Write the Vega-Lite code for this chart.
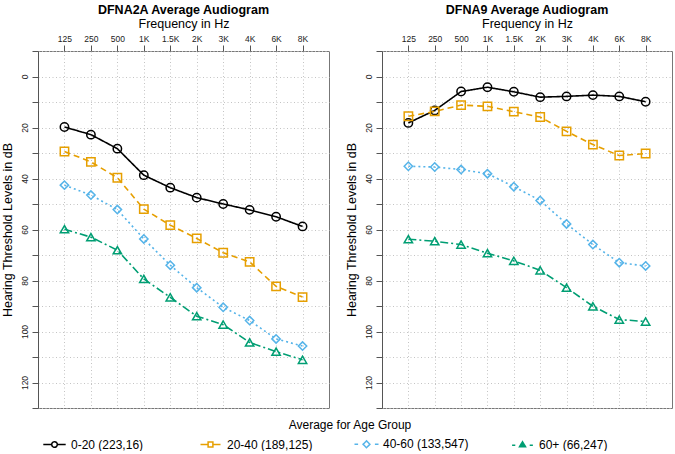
{
  "$schema": "https://vega.github.io/schema/vega-lite/v6.json",
  "background": "white",
  "padding": {"left": 0, "top": 3, "right": 6, "bottom": 0},
  "config": {
    "font": "Liberation Sans",
    "view": {"stroke": "#777", "strokeWidth": 1},
    "axis": {
      "labelFont": "Liberation Sans",
      "titleFont": "Liberation Sans",
      "labelColor": "#222",
      "titleColor": "#000",
      "titleFontWeight": "normal",
      "titleFontSize": 12.5,
      "labelFontSize": 8.5,
      "gridColor": "#c4c4c4",
      "gridDash": [1, 2.5],
      "gridWidth": 1,
      "domainColor": "#555",
      "tickColor": "#555",
      "tickSize": 6
    },
    "title": {"font": "Liberation Sans", "fontSize": 12.5, "fontWeight": "bold", "anchor": "middle", "offset": 1, "color": "#000"}
  },
  "datasets": {
    "dfna2a": [
      {"freq": "125", "db": 19.8, "group": "0-20 (223,16)"},
      {"freq": "250", "db": 22.8, "group": "0-20 (223,16)"},
      {"freq": "500", "db": 28.3, "group": "0-20 (223,16)"},
      {"freq": "1K", "db": 38.7, "group": "0-20 (223,16)"},
      {"freq": "1.5K", "db": 43.6, "group": "0-20 (223,16)"},
      {"freq": "2K", "db": 47.5, "group": "0-20 (223,16)"},
      {"freq": "3K", "db": 50.0, "group": "0-20 (223,16)"},
      {"freq": "4K", "db": 52.3, "group": "0-20 (223,16)"},
      {"freq": "6K", "db": 55.0, "group": "0-20 (223,16)"},
      {"freq": "8K", "db": 58.8, "group": "0-20 (223,16)"},
      {"freq": "125", "db": 29.4, "group": "20-40 (189,125)"},
      {"freq": "250", "db": 33.5, "group": "20-40 (189,125)"},
      {"freq": "500", "db": 39.7, "group": "20-40 (189,125)"},
      {"freq": "1K", "db": 52.0, "group": "20-40 (189,125)"},
      {"freq": "1.5K", "db": 58.3, "group": "20-40 (189,125)"},
      {"freq": "2K", "db": 63.5, "group": "20-40 (189,125)"},
      {"freq": "3K", "db": 69.1, "group": "20-40 (189,125)"},
      {"freq": "4K", "db": 72.7, "group": "20-40 (189,125)"},
      {"freq": "6K", "db": 82.3, "group": "20-40 (189,125)"},
      {"freq": "8K", "db": 86.5, "group": "20-40 (189,125)"},
      {"freq": "125", "db": 42.6, "group": "40-60 (133,547)"},
      {"freq": "250", "db": 46.5, "group": "40-60 (133,547)"},
      {"freq": "500", "db": 52.2, "group": "40-60 (133,547)"},
      {"freq": "1K", "db": 63.7, "group": "40-60 (133,547)"},
      {"freq": "1.5K", "db": 74.0, "group": "40-60 (133,547)"},
      {"freq": "2K", "db": 82.8, "group": "40-60 (133,547)"},
      {"freq": "3K", "db": 90.5, "group": "40-60 (133,547)"},
      {"freq": "4K", "db": 95.7, "group": "40-60 (133,547)"},
      {"freq": "6K", "db": 102.9, "group": "40-60 (133,547)"},
      {"freq": "8K", "db": 105.7, "group": "40-60 (133,547)"},
      {"freq": "125", "db": 59.9, "group": "60+ (66,247)"},
      {"freq": "250", "db": 63.0, "group": "60+ (66,247)"},
      {"freq": "500", "db": 68.1, "group": "60+ (66,247)"},
      {"freq": "1K", "db": 79.4, "group": "60+ (66,247)"},
      {"freq": "1.5K", "db": 86.6, "group": "60+ (66,247)"},
      {"freq": "2K", "db": 94.0, "group": "60+ (66,247)"},
      {"freq": "3K", "db": 97.3, "group": "60+ (66,247)"},
      {"freq": "4K", "db": 104.3, "group": "60+ (66,247)"},
      {"freq": "6K", "db": 107.9, "group": "60+ (66,247)"},
      {"freq": "8K", "db": 111.1, "group": "60+ (66,247)"}
    ],
    "dfna9": [
      {"freq": "125", "db": 18.2, "group": "0-20 (223,16)"},
      {"freq": "250", "db": 13.3, "group": "0-20 (223,16)"},
      {"freq": "500", "db": 5.9, "group": "0-20 (223,16)"},
      {"freq": "1K", "db": 4.2, "group": "0-20 (223,16)"},
      {"freq": "1.5K", "db": 6.0, "group": "0-20 (223,16)"},
      {"freq": "2K", "db": 8.1, "group": "0-20 (223,16)"},
      {"freq": "3K", "db": 7.8, "group": "0-20 (223,16)"},
      {"freq": "4K", "db": 7.3, "group": "0-20 (223,16)"},
      {"freq": "6K", "db": 7.8, "group": "0-20 (223,16)"},
      {"freq": "8K", "db": 9.9, "group": "0-20 (223,16)"},
      {"freq": "125", "db": 15.6, "group": "20-40 (189,125)"},
      {"freq": "250", "db": 13.7, "group": "20-40 (189,125)"},
      {"freq": "500", "db": 11.2, "group": "20-40 (189,125)"},
      {"freq": "1K", "db": 11.7, "group": "20-40 (189,125)"},
      {"freq": "1.5K", "db": 13.8, "group": "20-40 (189,125)"},
      {"freq": "2K", "db": 15.9, "group": "20-40 (189,125)"},
      {"freq": "3K", "db": 21.5, "group": "20-40 (189,125)"},
      {"freq": "4K", "db": 26.7, "group": "20-40 (189,125)"},
      {"freq": "6K", "db": 31.0, "group": "20-40 (189,125)"},
      {"freq": "8K", "db": 30.2, "group": "20-40 (189,125)"},
      {"freq": "125", "db": 35.2, "group": "40-60 (133,547)"},
      {"freq": "250", "db": 35.5, "group": "40-60 (133,547)"},
      {"freq": "500", "db": 36.5, "group": "40-60 (133,547)"},
      {"freq": "1K", "db": 38.1, "group": "40-60 (133,547)"},
      {"freq": "1.5K", "db": 43.2, "group": "40-60 (133,547)"},
      {"freq": "2K", "db": 48.6, "group": "40-60 (133,547)"},
      {"freq": "3K", "db": 57.8, "group": "40-60 (133,547)"},
      {"freq": "4K", "db": 65.9, "group": "40-60 (133,547)"},
      {"freq": "6K", "db": 73.0, "group": "40-60 (133,547)"},
      {"freq": "8K", "db": 74.3, "group": "40-60 (133,547)"},
      {"freq": "125", "db": 63.8, "group": "60+ (66,247)"},
      {"freq": "250", "db": 64.6, "group": "60+ (66,247)"},
      {"freq": "500", "db": 65.9, "group": "60+ (66,247)"},
      {"freq": "1K", "db": 69.3, "group": "60+ (66,247)"},
      {"freq": "1.5K", "db": 72.3, "group": "60+ (66,247)"},
      {"freq": "2K", "db": 76.0, "group": "60+ (66,247)"},
      {"freq": "3K", "db": 82.8, "group": "60+ (66,247)"},
      {"freq": "4K", "db": 90.1, "group": "60+ (66,247)"},
      {"freq": "6K", "db": 95.3, "group": "60+ (66,247)"},
      {"freq": "8K", "db": 96.1, "group": "60+ (66,247)"}
    ]
  },
  "spacing": 14,
  "resolve": {"scale": {"color": "shared", "shape": "shared", "strokeDash": "shared"}},
  "hconcat": [
    {
      "width": 291,
      "height": 357,
      "title": {"text": "DFNA2A Average Audiogram"},
      "data": {"name": "dfna2a"},
      "encoding": {
        "x": {"field": "freq", "type": "ordinal", "sort": ["125", "250", "500", "1K", "1.5K", "2K", "3K", "4K", "6K", "8K"], "scale": {"type": "point", "padding": 1},
          "axis": {"orient": "top", "title": "Frequency in Hz", "labelAngle": 0, "grid": true, "domain": false, "labelPadding": 2, "titlePadding": 4}},
        "y": {"field": "db", "type": "quantitative", "scale": {"domain": [-10, 130], "reverse": true, "nice": false, "zero": false},
          "axis": {"title": "Hearing Threshold Levels in dB", "values": [-10, 0, 10, 20, 30, 40, 50, 60, 70, 80, 90, 100, 110, 120, 130], "labelExpr": "(datum.value % 20 === 0 && datum.value >= 0 && datum.value <= 120) ? datum.label : ''", "labelAngle": -90, "labelAlign": "center", "labelBaseline": "bottom", "labelPadding": 3, "titlePadding": 6, "grid": true, "domain": true}},
        "color": {"field": "group", "type": "nominal", "scale": {"domain": ["0-20 (223,16)", "20-40 (189,125)", "40-60 (133,547)", "60+ (66,247)"], "range": ["#000000", "#E69F00", "#56B4E9", "#009E73"]},
          "legend": {
            "orient": "none", "legendX": 10.5, "legendY": 369, "direction": "horizontal", "columns": 4, "gridAlign": "all", "columnPadding": 39,
            "title": "Average for Age Group", "titleAnchor": "middle", "titleFontSize": 12, "titleFontWeight": "normal", "titleFont": "Liberation Sans", "titleColor": "#000", "titlePadding": 6,
            "labelFontSize": 12, "labelFont": "Liberation Sans", "labelColor": "#000", "labelOffset": 10.5, "symbolSize": 64, "symbolStrokeWidth": 1.5,
            "encode": {
              "title": {"update": {"dx": {"value": 22.5}}},
              "symbols": {"update": {
                "shape": {"signal": "datum.value === '0-20 (223,16)' ? 'M-2.8,0H-0.7M0.7,0H2.8M0.7,0A0.7,0.7,0,1,1,-0.7,0A0.7,0.7,0,1,1,0.7,0Z' : datum.value === '20-40 (189,125)' ? 'M-2.5,0H-0.6M0.6,0H2.5M-0.6,-0.6H0.6V0.6H-0.6Z' : datum.value === '40-60 (133,547)' ? 'M-3,0H-2.1M2.1,0H3M0,-0.85L0.85,0L0,0.85L-0.85,0Z' : 'M-2.6,0.2H-1.8M1.8,0.2H2.6M0,-0.7L0.75,0.55L-0.75,0.55Z'"},
                "fill": {"signal": "datum.value === '60+ (66,247)' ? '#009E73' : 'transparent'"},
                "strokeWidth": {"value": 1.5},
                "strokeDash": {"value": [1, 0]}
              }}
            }
          }}
      },
      "layer": [
        {"mark": {"type": "line", "strokeWidth": 1.6},
          "encoding": {"strokeDash": {"field": "group", "type": "nominal", "scale": {"range": [[1, 0], [6, 4], [2, 3], [8, 3, 2, 3]]}, "legend": null}}},
        {"mark": {"type": "point", "filled": false, "fill": "transparent", "size": 70, "strokeWidth": 1.5, "opacity": 1},
          "encoding": {"shape": {"field": "group", "type": "nominal", "scale": {"range": ["circle", "square", "diamond", "triangle-up"]}, "legend": null}}}
      ]
    },
    {
      "width": 290,
      "height": 357,
      "title": {"text": "DFNA9 Average Audiogram"},
      "data": {"name": "dfna9"},
      "encoding": {
        "x": {"field": "freq", "type": "ordinal", "sort": ["125", "250", "500", "1K", "1.5K", "2K", "3K", "4K", "6K", "8K"], "scale": {"type": "point", "padding": 1},
          "axis": {"orient": "top", "title": "Frequency in Hz", "labelAngle": 0, "grid": true, "domain": false, "labelPadding": 2, "titlePadding": 4}},
        "y": {"field": "db", "type": "quantitative", "scale": {"domain": [-10, 130], "reverse": true, "nice": false, "zero": false},
          "axis": {"title": "Hearing Threshold Levels in dB", "values": [-10, 0, 10, 20, 30, 40, 50, 60, 70, 80, 90, 100, 110, 120, 130], "labelExpr": "(datum.value % 20 === 0 && datum.value >= 0 && datum.value <= 120) ? datum.label : ''", "labelAngle": -90, "labelAlign": "center", "labelBaseline": "bottom", "labelPadding": 3, "titlePadding": 6, "grid": true, "domain": true}},
        "color": {"field": "group", "type": "nominal", "scale": {"domain": ["0-20 (223,16)", "20-40 (189,125)", "40-60 (133,547)", "60+ (66,247)"], "range": ["#000000", "#E69F00", "#56B4E9", "#009E73"]}}
      },
      "layer": [
        {"mark": {"type": "line", "strokeWidth": 1.6},
          "encoding": {"strokeDash": {"field": "group", "type": "nominal", "scale": {"range": [[1, 0], [6, 4], [2, 3], [8, 3, 2, 3]]}, "legend": null}}},
        {"mark": {"type": "point", "filled": false, "fill": "transparent", "size": 70, "strokeWidth": 1.5, "opacity": 1},
          "encoding": {"shape": {"field": "group", "type": "nominal", "scale": {"range": ["circle", "square", "diamond", "triangle-up"]}, "legend": null}}}
      ]
    }
  ]
}
